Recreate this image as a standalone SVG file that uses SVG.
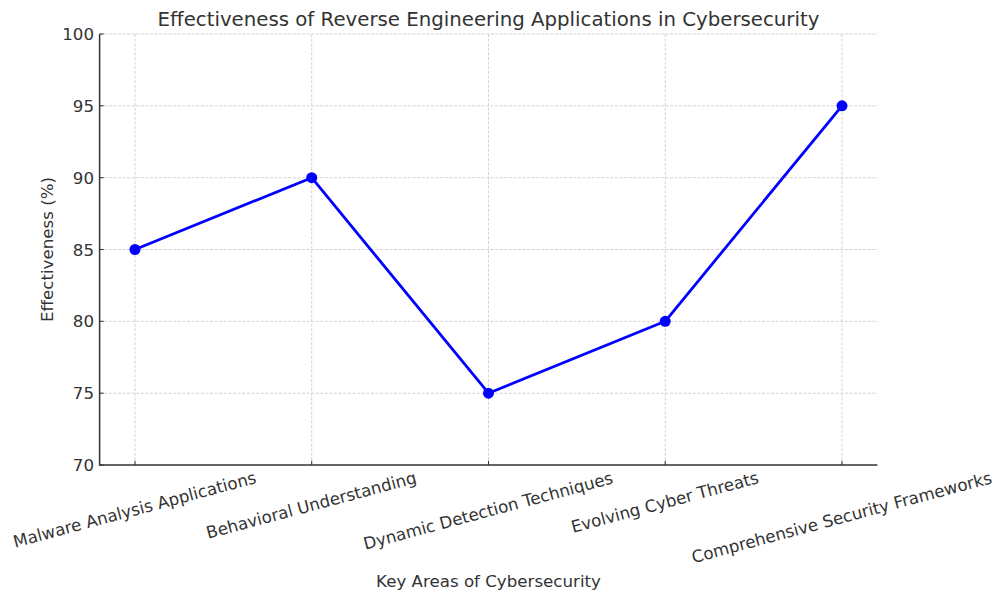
<svg xmlns="http://www.w3.org/2000/svg" width="1001" height="594" viewBox="0 0 1001 594">
  <style>
    text { font-family: "DejaVu Sans", "Liberation Sans", sans-serif; fill: #333333; }
    .title { font-size: 19.75px; text-anchor: middle; }
    .label { font-size: 16.67px; text-anchor: middle; }
    .ytick { font-size: 16.67px; text-anchor: end; }
    .xtick { font-size: 16.67px; text-anchor: middle; }
    .grid line { stroke: #c8c8c8; stroke-width: 0.8; stroke-dasharray: 3 1.6; }
    .spine { stroke: #333333; stroke-width: 1.5; fill: none; }
    .tick { stroke: #333333; stroke-width: 1; }
    .series { stroke: #0000ff; stroke-width: 2.8; fill: none; stroke-linejoin: round; }
    .marker { fill: #0000ff; }
  </style>
  <rect width="1001" height="594" fill="#ffffff"/>

  <!-- grid -->
  <g id="grid" class="grid">
    <line x1="135" y1="34" x2="135" y2="465"/>
    <line x1="311.7" y1="34" x2="311.7" y2="465"/>
    <line x1="488.5" y1="34" x2="488.5" y2="465"/>
    <line x1="665.2" y1="34" x2="665.2" y2="465"/>
    <line x1="842" y1="34" x2="842" y2="465"/>
    <line x1="99.6" y1="34" x2="877.4" y2="34"/>
    <line x1="99.6" y1="105.8" x2="877.4" y2="105.8"/>
    <line x1="99.6" y1="177.7" x2="877.4" y2="177.7"/>
    <line x1="99.6" y1="249.5" x2="877.4" y2="249.5"/>
    <line x1="99.6" y1="321.3" x2="877.4" y2="321.3"/>
    <line x1="99.6" y1="393.2" x2="877.4" y2="393.2"/>
  </g>

  <!-- axes -->
  <g id="axes">
    <polyline class="spine" points="99.6,34 99.6,465 877.4,465"/>
    <g class="tick">
      <line x1="99.6" y1="34" x2="103.8" y2="34"/>
      <line x1="99.6" y1="105.8" x2="103.8" y2="105.8"/>
      <line x1="99.6" y1="177.7" x2="103.8" y2="177.7"/>
      <line x1="99.6" y1="249.5" x2="103.8" y2="249.5"/>
      <line x1="99.6" y1="321.3" x2="103.8" y2="321.3"/>
      <line x1="99.6" y1="393.2" x2="103.8" y2="393.2"/>
      <line x1="99.6" y1="465" x2="103.8" y2="465"/>
      <line x1="135" y1="465" x2="135" y2="460.8"/>
      <line x1="311.7" y1="465" x2="311.7" y2="460.8"/>
      <line x1="488.5" y1="465" x2="488.5" y2="460.8"/>
      <line x1="665.2" y1="465" x2="665.2" y2="460.8"/>
      <line x1="842" y1="465" x2="842" y2="460.8"/>
    </g>
    <g id="yticklabels">
      <text class="ytick" x="94" y="40">100</text>
      <text class="ytick" x="94" y="111.8">95</text>
      <text class="ytick" x="94" y="183.7">90</text>
      <text class="ytick" x="94" y="255.5">85</text>
      <text class="ytick" x="94" y="327.3">80</text>
      <text class="ytick" x="94" y="399.2">75</text>
      <text class="ytick" x="94" y="471">70</text>
    </g>
    <g id="xticklabels">
      <text class="xtick" x="135" y="515.4" transform="rotate(-15 135 511)">Malware Analysis Applications</text>
      <text class="xtick" x="311.7" y="510.9" transform="rotate(-15 311.7 506.5)">Behavioral Understanding</text>
      <text class="xtick" x="488.5" y="516.6" transform="rotate(-15 488.5 512.2)">Dynamic Detection Techniques</text>
      <text class="xtick" x="665.2" y="508" transform="rotate(-15 665.2 503.6)">Evolving Cyber Threats</text>
      <text class="xtick" x="842" y="523.2" transform="rotate(-15 842 518.8)">Comprehensive Security Frameworks</text>
    </g>
  </g>

  <!-- titles -->
  <text class="title" x="488.5" y="26">Effectiveness of Reverse Engineering Applications in Cybersecurity</text>
  <text class="label" x="488.5" y="587">Key Areas of Cybersecurity</text>
  <text class="label" x="52.5" y="249.5" transform="rotate(-90 52.5 249.5)">Effectiveness (%)</text>

  <!-- series line -->
  <g id="connectors">
    <polyline class="series" points="135,249.5 311.7,177.7 488.5,393.2 665.2,321.3 842,105.8"/>
  </g>

  <!-- data points -->
  <g id="p-malware"><circle class="marker" cx="135" cy="249.5" r="5.5"/></g>
  <g id="p-behavioral"><circle class="marker" cx="311.7" cy="177.7" r="5.5"/></g>
  <g id="p-dynamic"><circle class="marker" cx="488.5" cy="393.2" r="5.5"/></g>
  <g id="p-evolving"><circle class="marker" cx="665.2" cy="321.3" r="5.5"/></g>
  <g id="p-comprehensive"><circle class="marker" cx="842" cy="105.8" r="5.5"/></g>
</svg>
